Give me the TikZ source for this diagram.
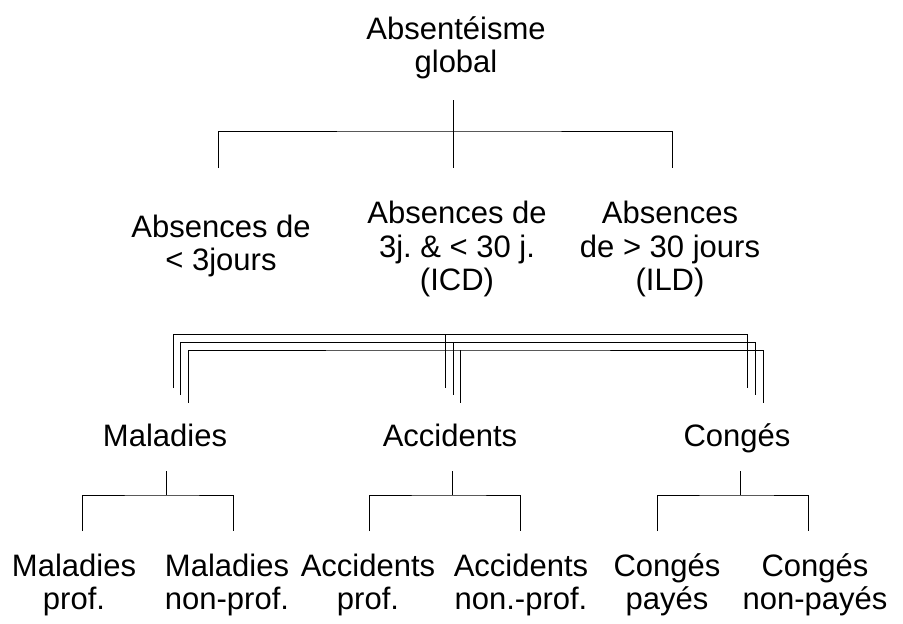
\documentclass[tikz,border=0pt]{standalone}
\usepackage{fontspec}
\setmainfont{Liberation Sans}
\frenchspacing
\begin{document}
\begin{tikzpicture}[x=1pt,y=-1pt,
  lbl/.style={align=center, inner sep=0pt, font=\fontsize{31}{33.5}\selectfont},
  one/.style={lbl, anchor=base},
  link/.style={line width=0.9pt, black}]
\fill[white] (0,0) rectangle (903,624);
\useasboundingbox (0,0) rectangle (903,624);

% root
\node[lbl] (glob) at (456,48) {Absentéisme\\global};

% durations
\node[lbl] (court) at (221,246) {Absences de\\< 3jours};
\node[lbl] (icd)   at (457,249) {Absences de\\3j. \& < 30 j.\\(ICD)};
\node[lbl] (ild)   at (670,249) {Absences\\de > 30 jours\\(ILD)};

% causes
\node[one] (mal) at (165,446) {Maladies};
\node[one] (acc) at (450,446) {Accidents};
\node[one] (cong) at (737,446) {Congés};

% sub-causes
\node[lbl] (malp)  at (74,585)  {Maladies\\prof.};
\node[lbl] (malnp) at (227,585) {Maladies\\non-prof.};
\node[lbl] (accp)  at (368,585) {Accidents\\prof.};
\node[lbl] (accnp) at (521,585) {Accidents\\non.-prof.};
\node[lbl] (congp) at (667,585) {Congés\\payés};
\node[lbl] (congnp) at (815,585) {Congés\\non-payés};

% bracket under the root
\coordinate (ts)  at (453,100);
\coordinate (tj)  at (453,131);
\coordinate (td1) at (218,168);
\coordinate (td2) at (453,168);
\coordinate (td3) at (672,168);
\draw[link] (ts) -- (td2);
\draw[link] (td1) |- (tj) -| (td3);

% three nested brackets linking the durations to the causes
\coordinate (a1) at (173.3,388);   \coordinate (aj) at (445.7,334.7);
\coordinate (a2) at (445.7,388);   \coordinate (a3) at (747.7,388);
\draw[link] (a1) |- (aj) -| (a3);
\draw[link] (aj) -- (a2);

\coordinate (b1) at (180.7,395);   \coordinate (bj) at (453,342.3);
\coordinate (b2) at (453,395);     \coordinate (b3) at (755.3,395);
\draw[link] (b1) |- (bj) -| (b3);
\draw[link] (bj) -- (b2);

\coordinate (c1) at (188.3,402.7); \coordinate (cj) at (460.3,350);
\coordinate (c2) at (460.3,402.7); \coordinate (c3) at (763,402.7);
\draw[link] (c1) |- (cj) -| (c3);
\draw[link] (cj) -- (c2);

% brackets under the causes
\coordinate (ms) at (166,471);  \coordinate (mj) at (166,495);
\coordinate (m1) at (82.3,531); \coordinate (m2) at (233.7,531);
\draw[link] (ms) -- (mj);
\draw[link] (m1) |- (mj) -| (m2);

\coordinate (xs) at (452.7,471); \coordinate (xj) at (452.7,495);
\coordinate (x1) at (369.7,531); \coordinate (x2) at (520.7,531);
\draw[link] (xs) -- (xj);
\draw[link] (x1) |- (xj) -| (x2);

\coordinate (gs) at (740.3,471); \coordinate (gj) at (740.3,495);
\coordinate (g1) at (657,531);   \coordinate (g2) at (808.3,531);
\draw[link] (gs) -- (gj);
\draw[link] (g1) |- (gj) -| (g2);
\end{tikzpicture}
\end{document}
